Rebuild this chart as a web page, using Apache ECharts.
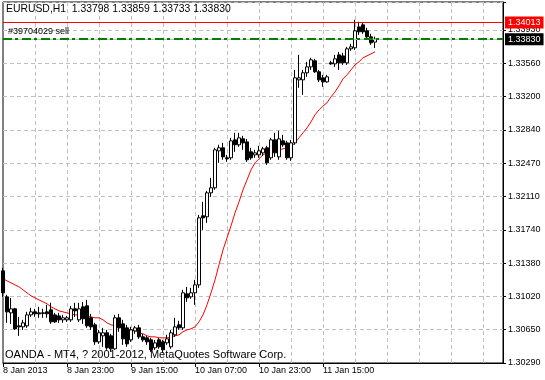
<!DOCTYPE html>
<html><head><meta charset="utf-8">
<script src="https://cdn.jsdelivr.net/npm/echarts@6/dist/echarts.min.js"></script>
<style>html,body{margin:0;padding:0;background:#fff}#c{width:545px;height:380px}</style>
</head><body><div id="c"></div>
<script>
const symbolName = 'EURUSD,H1';
const slotCount = 126;
const openP = [1.31297,1.31013,1.30838,1.30882,1.30696,1.30685,1.30696,1.30816,1.30849,1.30838,
1.30838,1.30849,1.30871,1.30816,1.30805,1.30762,1.30762,1.30762,1.30882,1.30762,
1.30904,1.30915,1.30784,1.30707,1.30521,1.30587,1.30620,1.30587,1.30445,1.30784,
1.30718,1.30674,1.30543,1.30641,1.30674,1.30576,1.30565,1.30543,1.30456,1.30543,
1.30521,1.30510,1.30467,1.30598,1.30707,1.30674,1.31046,1.31013,1.31057,1.31144,
1.31899,1.31888,1.32150,1.32205,1.32609,1.32642,1.32533,1.32533,1.32729,1.32675,
1.32740,1.32707,1.32598,1.32565,1.32565,1.32587,1.32642,1.32533,1.32729,1.32543,
1.32718,1.32696,1.32533,1.32696,1.33385,1.33385,1.33462,1.33527,1.33593,1.33473,
1.33407,1.33363,1.33571,1.33560,1.33658,1.33647,1.33571,1.33724,1.33735,1.33964,
1.33986,1.33921,1.33855,1.33798];
const highP = [1.31330,1.31035,1.31002,1.30893,1.30794,1.30762,1.30849,1.30893,1.30882,1.30904,
1.30882,1.30926,1.30948,1.30838,1.30838,1.30816,1.30805,1.30915,1.30948,1.30948,
1.30958,1.30980,1.30827,1.30729,1.30652,1.30674,1.30652,1.30609,1.30816,1.30827,
1.30762,1.30707,1.30685,1.30696,1.30707,1.30609,1.30587,1.30565,1.30543,1.30565,
1.30543,1.30598,1.30652,1.30784,1.30751,1.31090,1.31122,1.31111,1.31199,1.31909,
1.32052,1.32172,1.32314,1.32642,1.32675,1.32696,1.32565,1.32751,1.32806,1.32806,
1.32773,1.32740,1.32642,1.32620,1.32664,1.32653,1.32664,1.32751,1.32806,1.32828,
1.32784,1.32718,1.32729,1.33494,1.33658,1.33494,1.33582,1.33626,1.33615,1.33494,
1.33440,1.33440,1.33593,1.33658,1.33691,1.33680,1.33746,1.33779,1.34041,1.34019,
1.34008,1.33954,1.33888,1.33859];
const lowP = [1.31013,1.30729,1.30718,1.30652,1.30587,1.30652,1.30674,1.30794,1.30794,1.30784,
1.30784,1.30784,1.30718,1.30729,1.30729,1.30729,1.30740,1.30740,1.30794,1.30740,
1.30718,1.30674,1.30652,1.30488,1.30499,1.30467,1.30434,1.30412,1.30434,1.30631,
1.30488,1.30467,1.30521,1.30609,1.30554,1.30521,1.30488,1.30412,1.30434,1.30445,
1.30401,1.30488,1.30445,1.30576,1.30652,1.30652,1.30958,1.30991,1.30926,1.31111,
1.31745,1.31822,1.32106,1.32183,1.32478,1.32511,1.32489,1.32511,1.32598,1.32653,
1.32620,1.32489,1.32511,1.32533,1.32533,1.32554,1.32456,1.32511,1.32543,1.32511,
1.32653,1.32511,1.32500,1.32675,1.33298,1.33221,1.33418,1.33494,1.33462,1.33363,
1.33309,1.33352,1.33549,1.33527,1.33494,1.33549,1.33549,1.33702,1.33713,1.33877,
1.33888,1.33822,1.33768,1.33733];
const closeP = [1.31057,1.30849,1.30882,1.30663,1.30685,1.30729,1.30816,1.30849,1.30827,1.30827,
1.30833,1.30827,1.30740,1.30740,1.30762,1.30784,1.30784,1.30882,1.30860,1.30882,
1.30773,1.30696,1.30685,1.30521,1.30620,1.30620,1.30456,1.30445,1.30784,1.30674,
1.30554,1.30499,1.30652,1.30674,1.30576,1.30543,1.30521,1.30434,1.30510,1.30467,
1.30434,1.30554,1.30620,1.30685,1.30674,1.31057,1.31002,1.31057,1.31144,1.31877,
1.31877,1.32150,1.32205,1.32620,1.32642,1.32543,1.32522,1.32718,1.32675,1.32751,
1.32696,1.32511,1.32533,1.32587,1.32609,1.32631,1.32478,1.32729,1.32587,1.32740,
1.32675,1.32533,1.32696,1.33407,1.33407,1.33462,1.33527,1.33604,1.33473,1.33385,
1.33363,1.33418,1.33560,1.33615,1.33571,1.33571,1.33724,1.33746,1.33921,1.33910,
1.33910,1.33855,1.33790,1.33830];
const maP = [1.31210,1.31188,1.31166,1.31144,1.31122,1.31090,1.31057,1.31024,1.31002,1.30980,
1.30958,1.30937,1.30904,1.30882,1.30860,1.30849,1.30838,1.30827,1.30816,1.30816,
1.30805,1.30805,1.30794,1.30784,1.30784,1.30762,1.30729,1.30707,1.30696,1.30685,
1.30674,1.30663,1.30652,1.30641,1.30620,1.30609,1.30587,1.30576,1.30576,1.30565,
1.30565,1.30565,1.30576,1.30587,1.30598,1.30631,1.30652,1.30663,1.30685,1.30740,
1.30816,1.30926,1.31057,1.31199,1.31363,1.31527,1.31658,1.31789,1.31931,1.32052,
1.32183,1.32292,1.32401,1.32478,1.32522,1.32565,1.32587,1.32609,1.32620,1.32620,
1.32631,1.32642,1.32653,1.32697,1.32751,1.32806,1.32860,1.32926,1.33003,1.33057,
1.33101,1.33134,1.33199,1.33254,1.33320,1.33396,1.33440,1.33494,1.33549,1.33582,
1.33626,1.33647,1.33669,1.33691];
const xTickIndex = [0,16,32,48,64,80];
const xTickLabels = ['8 Jan 2013','8 Jan 23:00','9 Jan 15:00','10 Jan 07:00','10 Jan 23:00','11 Jan 15:00'];
const yMin = 1.3029, yStep = 0.00364, yMax = 1.34236;
const yTickLabels = ['1.30290','1.30650','1.31020','1.31380','1.31740','1.32110','1.32470','1.32840','1.33200','1.33560','1.33930'];
const levelStop = 1.34013;
const levelBid = 1.33830;
const levelOrder = 1.33830;
const orderText = '#39704029 sell';
const copyrightText = 'OANDA - MT4, ? 2001-2012, MetaQuotes Software Corp.';

const FF = 'Liberation Sans';
const categories = [];
for (let i = 0; i < slotCount; i++) {
  const d = new Date(Date.UTC(2013, 0, 8, 7 + i));
  categories.push(d.getUTCFullYear() + '.' + String(d.getUTCMonth()+1).padStart(2,'0') + '.' +
    String(d.getUTCDate()).padStart(2,'0') + ' ' + String(d.getUTCHours()).padStart(2,'0') + ':00');
}
const candles = openP.map((o, i) => [o, closeP[i], lowP[i], highP[i]]);
const last = openP.length - 1;
const header = symbolName + '  ' + openP[last].toFixed(5) + ' ' + highP[last].toFixed(5) + ' ' +
  lowP[last].toFixed(5) + ' ' + closeP[last].toFixed(5);

const chart = echarts.init(document.getElementById('c'), null, {renderer: 'canvas'});
chart.setOption({
  animation: false,
  backgroundColor: '#fff',
  title: [
    {text: header, left: 6, top: 4, padding: 0,
     textStyle: {fontFamily: FF, fontSize: 10.4, fontWeight: 'normal', color: '#000'}},
    {text: copyrightText, left: 5, top: 349, padding: 0,
     textStyle: {fontFamily: FF, fontSize: 11, fontWeight: 'normal', color: '#000'}}
  ],
  grid: {left: 3, right: 42, top: 2, bottom: 17, show: true, borderColor: '#000', borderWidth: 1, backgroundColor: '#fff'},
  xAxis: {
    type: 'category', data: categories, boundaryGap: false,
    axisLine: {show: true, lineStyle: {color: '#000', width: 1}},
    axisTick: {show: true, length: 4, interval: (i) => xTickIndex.includes(i), lineStyle: {color: '#000'}},
    axisLabel: {interval: (i) => xTickIndex.includes(i),
      formatter: (v, i) => { const k = xTickIndex.indexOf(i); return k >= 0 ? xTickLabels[k] : ''; },
      align: 'left', margin: 3, color: '#000', fontSize: 9, fontFamily: FF},
    splitLine: {show: true, interval: (i) => i > 0 && i % 8 === 0, lineStyle: {color: '#c0c0c0', type: [4, 3], width: 1}}
  },
  yAxis: {
    type: 'value', position: 'right', min: yMin, max: yMax, interval: yStep,
    axisLine: {show: true, lineStyle: {color: '#000', width: 1}},
    axisTick: {show: true, length: 3, lineStyle: {color: '#000'}},
    axisLabel: {
      formatter: (v) => { const k = Math.round((v - yMin) / yStep);
        return Math.abs(v - (yMin + k * yStep)) < 1e-7 ? (yTickLabels[k] || '') : ''; },
      margin: 5, color: '#000', fontSize: 9, fontFamily: FF},
    splitLine: {show: true, lineStyle: {color: '#c0c0c0', type: [4, 3], width: 1}}
  },
  series: [
    {
      type: 'line', data: maP, showSymbol: false, symbol: 'none', clip: false, z: 2,
      lineStyle: {color: '#ff0000', width: 1},
      markLine: {
        silent: true, symbol: ['none', 'none'], animation: false, precision: 5, z: 6,
        data: [
          {yAxis: levelBid, lineStyle: {color: '#c0c0c0', type: 'solid', width: 1},
           label: {show: true, position: 'end', distance: 2, formatter: levelBid.toFixed(5),
             backgroundColor: '#000', color: '#fff', padding: [2, 3, 1, 3], fontSize: 9, fontFamily: FF}},
          {yAxis: levelOrder, lineStyle: {color: '#008000', type: [9, 3, 3, 4], width: 2},
           label: {show: true, position: 'insideStartTop', distance: [5, 3], formatter: orderText,
             color: '#000', fontSize: 9, fontFamily: FF}},
          {yAxis: levelStop, lineStyle: {color: '#ff0000', type: 'solid', width: 1},
           label: {show: true, position: 'end', distance: 2, formatter: levelStop.toFixed(5),
             backgroundColor: '#ff0000', color: '#fff', padding: [2, 3, 1, 3], fontSize: 9, fontFamily: FF}}
        ]
      }
    },
    {
      type: 'candlestick', data: candles, barWidth: 3, clip: false, z: 3,
      itemStyle: {color: '#fff', color0: '#000', borderColor: '#000', borderColor0: '#000', borderWidth: 1}
    }
  ]
});
</script>
</body></html>
